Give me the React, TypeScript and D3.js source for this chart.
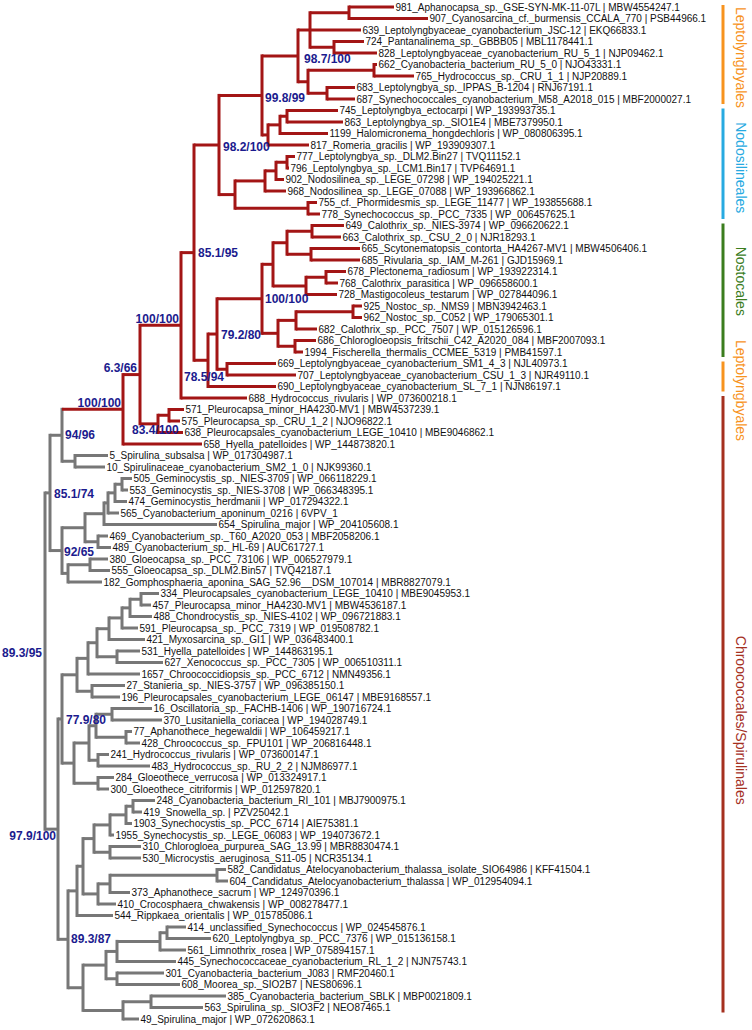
import React, { useMemo } from 'react';
import * as d3 from 'd3';

// ---------- DATA ----------
const leafLabels: string[] = [
  '981_Aphanocapsa_sp._GSE-SYN-MK-11-07L | MBW4554247.1',
  '907_Cyanosarcina_cf._burmensis_CCALA_770 | PSB44966.1',
  '639_Leptolyngbyaceae_cyanobacterium_JSC-12 | EKQ66833.1',
  '724_Pantanalinema_sp._GBBB05 | MBL1178441.1',
  '828_Leptolyngbyaceae_cyanobacterium_RU_5_1 | NJP09462.1',
  '662_Cyanobacteria_bacterium_RU_5_0 | NJO43331.1',
  '765_Hydrococcus_sp._CRU_1_1 | NJP20889.1',
  '683_Leptolyngbya_sp._IPPAS_B-1204 | RNJ67191.1',
  '687_Synechococcales_cyanobacterium_M58_A2018_015 | MBF2000027.1',
  '745_Leptolyngbya_ectocarpi | WP_193993735.1',
  '863_Leptolyngbya_sp._SIO1E4 | MBE7379950.1',
  '1199_Halomicronema_hongdechloris | WP_080806395.1',
  '817_Romeria_gracilis | WP_193909307.1',
  '777_Leptolyngbya_sp._DLM2.Bin27 | TVQ11152.1',
  '796_Leptolyngbya_sp._LCM1.Bin17 | TVP64691.1',
  '902_Nodosilinea_sp._LEGE_07298 | WP_194025221.1',
  '968_Nodosilinea_sp._LEGE_07088 | WP_193966862.1',
  '755_cf._Phormidesmis_sp._LEGE_11477 | WP_193855688.1',
  '778_Synechococcus_sp._PCC_7335 | WP_006457625.1',
  '649_Calothrix_sp._NIES-3974 | WP_096620622.1',
  '663_Calothrix_sp._CSU_2_0 | NJR18293.1',
  '665_Scytonematopsis_contorta_HA4267-MV1 | MBW4506406.1',
  '685_Rivularia_sp._IAM_M-261 | GJD15969.1',
  '678_Plectonema_radiosum | WP_193922314.1',
  '768_Calothrix_parasitica | WP_096658600.1',
  '728_Mastigocoleus_testarum | WP_027844096.1',
  '925_Nostoc_sp._NMS9 | MBN3942463.1',
  '962_Nostoc_sp._C052 | WP_179065301.1',
  '682_Calothrix_sp._PCC_7507 | WP_015126596.1',
  '686_Chlorogloeopsis_fritschii_C42_A2020_084 | MBF2007093.1',
  '1994_Fischerella_thermalis_CCMEE_5319 | PMB41597.1',
  '669_Leptolyngbyaceae_cyanobacterium_SM1_4_3 | NJL40973.1',
  '707_Leptolyngbyaceae_cyanobacterium_CSU_1_3 | NJR49110.1',
  '690_Leptolyngbyaceae_cyanobacterium_SL_7_1 | NJN86197.1',
  '688_Hydrococcus_rivularis | WP_073600218.1',
  '571_Pleurocapsa_minor_HA4230-MV1 | MBW4537239.1',
  '575_Pleurocapsa_sp._CRU_1_2 | NJO96822.1',
  '638_Pleurocapsales_cyanobacterium_LEGE_10410 | MBE9046862.1',
  '658_Hyella_patelloides | WP_144873820.1',
  '5_Spirulina_subsalsa | WP_017304987.1',
  '10_Spirulinaceae_cyanobacterium_SM2_1_0 | NJK99360.1',
  '505_Geminocystis_sp._NIES-3709 | WP_066118229.1',
  '553_Geminocystis_sp._NIES-3708 | WP_066348395.1',
  '474_Geminocystis_herdmanii | WP_017294322.1',
  '565_Cyanobacterium_aponinum_0216 | 6VPV_1',
  '654_Spirulina_major | WP_204105608.1',
  '469_Cyanobacterium_sp._T60_A2020_053 | MBF2058206.1',
  '489_Cyanobacterium_sp._HL-69 | AUC61727.1',
  '380_Gloeocapsa_sp._PCC_73106 | WP_006527979.1',
  '555_Gloeocapsa_sp._DLM2.Bin57 | TVQ42187.1',
  '182_Gomphosphaeria_aponina_SAG_52.96__DSM_107014 | MBR8827079.1',
  '334_Pleurocapsales_cyanobacterium_LEGE_10410 | MBE9045953.1',
  '457_Pleurocapsa_minor_HA4230-MV1 | MBW4536187.1',
  '488_Chondrocystis_sp._NIES-4102 | WP_096721883.1',
  '591_Pleurocapsa_sp._PCC_7319 | WP_019508782.1',
  '421_Myxosarcina_sp._GI1 | WP_036483400.1',
  '531_Hyella_patelloides | WP_144863195.1',
  '627_Xenococcus_sp._PCC_7305 | WP_006510311.1',
  '1657_Chroococcidiopsis_sp._PCC_6712 | NMN49356.1',
  '27_Stanieria_sp._NIES-3757 | WP_096385150.1',
  '196_Pleurocapsales_cyanobacterium_LEGE_06147 | MBE9168557.1',
  '16_Oscillatoria_sp._FACHB-1406 | WP_190716724.1',
  '370_Lusitaniella_coriacea | WP_194028749.1',
  '77_Aphanothece_hegewaldii | WP_106459217.1',
  '428_Chroococcus_sp._FPU101 | WP_206816448.1',
  '241_Hydrococcus_rivularis | WP_073600147.1',
  '483_Hydrococcus_sp._RU_2_2 | NJM86977.1',
  '284_Gloeothece_verrucosa | WP_013324917.1',
  '300_Gloeothece_citriformis | WP_012597820.1',
  '248_Cyanobacteria_bacterium_RI_101 | MBJ7900975.1',
  '419_Snowella_sp. | PZV25042.1',
  '1903_Synechocystis_sp._PCC_6714 | AIE75381.1',
  '1955_Synechocystis_sp._LEGE_06083 | WP_194073672.1',
  '310_Chlorogloea_purpurea_SAG_13.99 | MBR8830474.1',
  '530_Microcystis_aeruginosa_S11-05 | NCR35134.1',
  '582_Candidatus_Atelocyanobacterium_thalassa_isolate_SIO64986 | KFF41504.1',
  '604_Candidatus_Atelocyanobacterium_thalassa | WP_012954094.1',
  '373_Aphanothece_sacrum | WP_124970396.1',
  '410_Crocosphaera_chwakensis | WP_008278477.1',
  '544_Rippkaea_orientalis | WP_015785086.1',
  '414_unclassified_Synechococcus | WP_024545876.1',
  '620_Leptolyngbya_sp._PCC_7376 | WP_015136158.1',
  '561_Limnothrix_rosea | WP_075894157.1',
  '445_Synechococcaceae_cyanobacterium_RL_1_2 | NJN75743.1',
  '301_Cyanobacteria_bacterium_J083 | RMF20460.1',
  '608_Moorea_sp._SIO2B7 | NES80696.1',
  '385_Cyanobacteria_bacterium_SBLK | MBP0021809.1',
  '563_Spirulina_sp._SIO3F2 | NEO87465.1',
  '49_Spirulina_major | WP_072620863.1',
];

// Support values (internal node ids in the Newick)
const supportIds = ['S1', 'S2', 'S3', 'S4', 'S5', 'S6', 'S7', 'S8', 'S9', 'S10', 'S11', 'S12', 'S13', 'S14', 'S15', 'S16', 'S17', 'S18'];
const supportTexts = ['89.3/95', '85.1/74', '94/96', '100/100', '6.3/66', '100/100', '85.1/95', '98.2/100', '99.8/99', '98.7/100', '78.5/94', '79.2/80', '100/100', '83.4/100', '92/65', '97.9/100', '77.9/80', '89.3/87'];

// Tree topology with branch lengths (Newick pieces)
const nwS10 = '(((L0:45,L1:79):39,L2:51,(L3:30,L4:43):24):12,((L5:3,L6:40):66,(L7:28,L8:28):19):10)S10:36';
const nwS9 = `(${nwS10},(((L9:51,L10:56):7,L11:48):12,L12:41):6)S9:43`;
const nwS8 = `(${nwS9},((((L13:8,L14:2):11,L15:8):11,L16:21):30,(L17:9,L18:12):73):16)S8:25`;
const nwNostA = '(((L19:32,L20:29):25,(L21:49,L22:49):24):14,((L23:20,L24:12):20,L25:31):33):11';
const nwNostB = '(((L26:9,L27:9):57,L28:21):18,(L29:21,L30:8):17):16';
const nwS13 = `(${nwNostA},${nwNostB})S13:45`;
const nwS12 = `(${nwS13},(L31:49,L32:69):10)S12:9`;
const nwS11 = `(${nwS12},L33:68)S11:14`;
const nwS7 = `(${nwS8},${nwS11})S7:13`;
const nwS6 = `(${nwS7},L34:66)S6:41`;
const nwS14 = '((L35:15,L36:11):11,L37:25)S14:18';
const nwS5 = `(${nwS6},${nwS14})S5:17`;
const nwS4 = `(${nwS5},L38:79)S4:61`;
const nwS3 = `(${nwS4},(L39:33,L40:30):13)S3:12`;
const nwGem = '(((((L41:10,L42:6):7,L43:12):7,L44:11):4,L45:113):19,(L46:10,L47:13):13):23';
const nwGloeo = '((L48:18,L49:20):22,L50:34):6';
const nwS15 = `(${nwGem},${nwGloeo})S15:12`;
const nwS2 = `(${nwS3},${nwS15})S2:5`;
const nwPleuro = '(((((((L51:18,L52:10):11,L53:22):8,L54:16):13,L55:36):12,(L56:23,L57:46):20):9,L58:52):11,(L59:33,L60:28):15):15';
const nwChroo = '((((L61:40,L62:50):16,(L63:6,L64:14):30):7,(L65:11,L66:52):9):15,(L67:16,L68:11):24):12';
const nwS17 = `(${nwPleuro},${nwChroo})S17:4`;
const nwSyn = '((((L69:22,L70:9):7,L71:6):16,L72:4):16,(L73:31,L74:31):16):11';
const nwCroco = '(((L75:9,L76:11):107,L77:20):12,L78:18):15';
const nwSynCro = `((${nwSyn},${nwCroco}):6,L79:36):9`;
const nwLimno = '((((L80:19,L81:44):7,L82:26):43,L83:59):11,(L84:47,L85:63):11):23';
const nwSpir = '((L86:75,L87:52):28,L88:16):40';
const nwS18 = `(${nwSynCro},(${nwLimno},${nwSpir}):15)S18:10`;
const nwS16 = `(${nwS17},${nwS18})S16:13`;
const newick = `(${nwS2},${nwS16})S1;`;

// Clade bars on the right
const cladeNames = ['Leptolyngbyales', 'Nodosilineales', 'Nostocales', 'Leptolyngbyales', 'Chroococcales/Spirulinales'];
const cladeFirstLeaf = [0, 9, 19, 31, 34];
const cladeLastLeaf = [8, 18, 30, 33, 87];
const cladeColors = ['#f7931e', '#27aae1', '#3b7d1e', '#f7931e', '#a5301f'];

// ---------- LAYOUT / STYLE ----------
const RED = '#a31515';
const GRAY = '#777777';
const SUPPORT = '#1b1b8e';
const labelPlacement: Record<string, [number, number, string]> = {
  S1: [-3, -8, 'end'], S2: [4, 1, 'start'], S3: [3, 0, 'start'], S4: [-2, -6, 'end'],
  S5: [-3, -7, 'end'], S6: [-2, -6, 'end'], S7: [4, 0, 'start'], S8: [4, 2, 'start'],
  S9: [3, 3, 'start'], S10: [6, 3, 'start'], S11: [-24, 17, 'start'], S12: [4, 1, 'start'],
  S13: [3, 0, 'start'], S14: [-26, 6, 'start'], S15: [2, 1, 'start'], S16: [-2, 7, 'end'],
  S17: [4, 1, 'start'], S18: [3, 0, 'start'],
};
const cladeLabelShift = [3, 4, -9, 14, 16];

function parseNewick(s: string) {
  let i = 0;
  function node(): any {
    const n: any = {};
    const kids: any[] = [];
    if (s[i] === '(') {
      i++;
      kids.push(node());
      while (s[i] === ',') { i++; kids.push(node()); }
      i++;
    }
    let name = '';
    while (i < s.length && !',():;'.includes(s[i])) name += s[i++];
    n.name = name.trim();
    n.length = 0;
    if (s[i] === ':') {
      i++;
      let num = '';
      while (i < s.length && !',();'.includes(s[i])) num += s[i++];
      n.length = parseFloat(num);
    }
    if (kids.length) n.children = kids;
    return n;
  }
  return node();
}

export default function App() {
  const layout = useMemo(() => {
    const root: any = d3.hierarchy(parseNewick(newick));
    root.eachBefore((n: any) => { n.dist = n.parent ? n.parent.dist + n.data.length : 0; });
    const leaves = root.leaves();
    const yScale = d3.scalePoint<string>().domain(leaves.map((l: any) => l.data.name)).range([7, 1019]);
    root.eachAfter((n: any) => {
      if (n.children) n.yy = (n.children[0].yy + n.children[n.children.length - 1].yy) / 2;
      else n.yy = yScale(n.data.name) as number;
    });
    const maxDist = d3.max(leaves, (l: any) => l.dist as number) as number;
    const xScale = d3.scaleLinear().domain([0, maxDist]).range([45, 45 + maxDist]);
    const redRoot = root.descendants().find((n: any) => n.data.name === 'S4');
    const redSet = new Set(redRoot.descendants());
    const color = (n: any) => (redSet.has(n) ? RED : GRAY);
    return { root, leaves, xScale, yScale, color };
  }, []);

  const { root, leaves, xScale, yScale, color } = layout;
  const descendants = root.descendants();
  const bandHalf = 5;

  return (
    <svg width={752} height={1030} style={{ position: 'absolute', left: 0, top: 0, background: '#fff' }}
      fontFamily="'Liberation Sans', Arial, Helvetica, sans-serif">
      <rect x={0} y={0} width={752} height={1030} fill="#fff" />
      {/* vertical connectors */}
      {descendants.filter((n: any) => n.children).map((n: any, i: number) => (
        <line key={'v' + i} x1={xScale(n.dist)} x2={xScale(n.dist)}
          y1={n.children[0].yy} y2={n.children[n.children.length - 1].yy}
          stroke={color(n)} strokeWidth={3} strokeLinecap="square" />
      ))}
      {/* horizontal branches */}
      {descendants.filter((n: any) => n.parent).map((n: any, i: number) => (
        <line key={'h' + i} x1={xScale(n.parent.dist)} x2={xScale(n.dist)} y1={n.yy} y2={n.yy}
          stroke={color(n)} strokeWidth={3} />
      ))}
      {/* leaf labels */}
      {leaves.map((l: any, i: number) => (
        <text key={'l' + i} x={xScale(l.dist) + 1.5} y={l.yy} fontSize={10} fill="#111" dominantBaseline="central">
          {leafLabels[parseInt(l.data.name.slice(1), 10)]}
        </text>
      ))}
      {/* support values */}
      {descendants.filter((n: any) => supportIds.includes(n.data.name)).map((n: any, i: number) => {
        const id = n.data.name;
        const [dx, dy, anchor] = labelPlacement[id];
        return (
          <text key={'s' + i} x={xScale(n.dist) + dx} y={n.yy + dy} fontSize={12} fontWeight="bold"
            fill={SUPPORT} textAnchor={anchor as any} dominantBaseline="central">
            {supportTexts[supportIds.indexOf(id)]}
          </text>
        );
      })}
      {/* clade bars */}
      {cladeNames.map((name, i) => {
        const y1 = (yScale(leaves[cladeFirstLeaf[i]].data.name) as number) - 2;
        const y2 = (yScale(leaves[cladeLastLeaf[i]].data.name) as number) + bandHalf;
        const yc = (y1 + y2) / 2 + cladeLabelShift[i];
        return (
          <g key={'c' + i}>
            <line x1={723} x2={723} y1={y1} y2={y2} stroke={cladeColors[i]} strokeWidth={3} />
            <text transform={`translate(736,${yc}) rotate(90)`} textAnchor="middle" fontSize={14} fill={cladeColors[i]}>
              {name}
            </text>
          </g>
        );
      })}
    </svg>
  );
}
